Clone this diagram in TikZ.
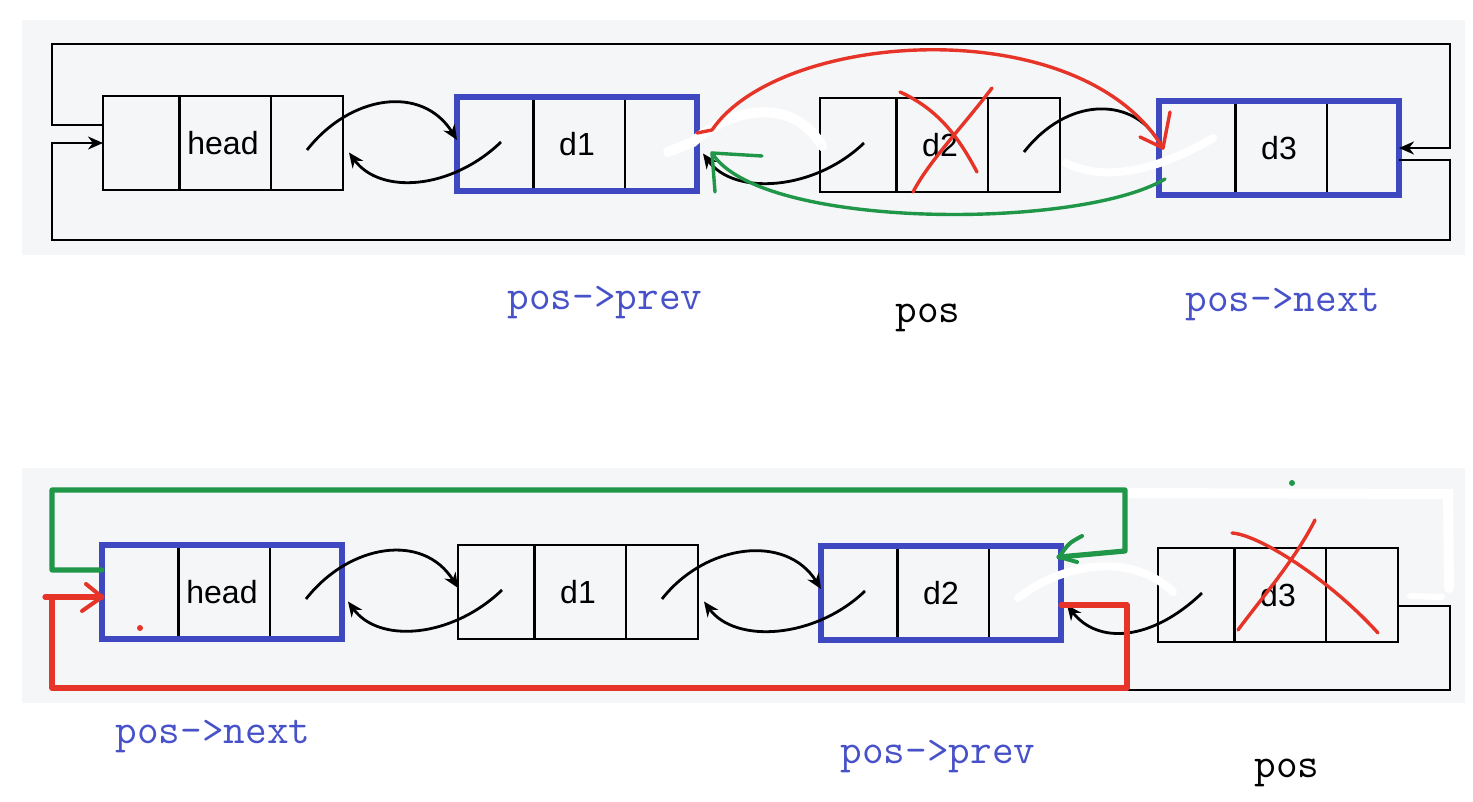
\documentclass[tikz,border=0pt]{standalone}
\usepackage{fontspec}
\setmainfont{Liberation Sans}
\usetikzlibrary{calc,arrows.meta}

\definecolor{panelgray}{RGB}{245,246,248}
\definecolor{selblue}{RGB}{62,72,192}
\definecolor{textblue}{RGB}{72,82,200}
\definecolor{penred}{RGB}{230,52,40}
\definecolor{pengreen}{RGB}{32,150,72}

\begin{document}
\begin{tikzpicture}[x=0.5pt,y=-0.5pt,
  cell/.style={draw,line width=1.4pt,minimum width=120pt,minimum height=47pt,inner sep=0pt,outer sep=0pt},
  sel/.style={draw=selblue,line width=2.8pt},
  plain/.style={},
  link/.style={line width=1.4pt,-{Stealth[length=7.5pt,width=6.5pt]}},
  loopline/.style={line width=1.4pt},
  redpen/.style={draw=penred,line width=1.7pt,line cap=round,line join=round},
  greenpen/.style={draw=pengreen,line width=1.7pt,line cap=round,line join=round},
  erase/.style={draw=white,line width=5pt,line cap=round},
  bluelab/.style={font=\ttfamily\fontsize{21}{22}\selectfont,text=textblue},
  blacklab/.style={font=\ttfamily\fontsize{21}{22}\selectfont}]
\useasboundingbox (0,0) rectangle (1473,802);
\fill[panelgray] (22,20) rectangle (1465,255);
\fill[panelgray] (22,468) rectangle (1465,703);

% list nodes
\foreach \n/\x/\y/\t/\s/\sh in {th/223/143/head/plain/0pt,t1/577/144/d1/sel/1.4pt,t2/940/145/d2/plain/0pt,t3/1279/148/d3/sel/1.4pt,
  bh/222/592/head/sel/1.4pt,b1/578/592/d1/plain/0pt,b2/941/593/d2/sel/1.4pt,b3/1278/595/d3/plain/0pt}{
  \node[cell,\s] (\n) at (\x,\y) {};
  \draw[line width=1.4pt,shorten <=\sh,shorten >=\sh] ($(\n.south west)!0.32!(\n.south east)$) -- ($(\n.north west)!0.32!(\n.north east)$);
  \draw[line width=1.4pt,shorten <=\sh,shorten >=\sh] ($(\n.south west)!0.70!(\n.south east)$) -- ($(\n.north west)!0.70!(\n.north east)$);
  \node[font=\fontsize{16}{17}\selectfont] (\n-txt) at (\n.center) {\t};
}

% top panel
\draw[loopline,-{Stealth[length=7.5pt,width=6.5pt]}] (th.west |- 0,125) -| (52,44) -| (1450,148) -- (t3.east);
\draw[loopline,-{Stealth[length=7.5pt,width=6.5pt]}] (t3.east |- 0,160) -| (1450,240) -| (52,143) -- (th.west);

\draw[link] ($(th.east)+(-36,7)$) .. controls ($(th.east)+(7,-48)$) and ($(t1.west)+(-35,-60)$) .. ($(t1.west)+(0,-4)$);
\draw[link] ($(t1.west)+(44,-2)$) .. controls ($(t1.west)+(-6,46)$) and ($(th.east)+(37,52)$) .. ($(th.east)+(6,9.5)$);
\draw[link] ($(t2.west)+(44,-2)$) .. controls ($(t2.west)+(-6,46)$) and ($(t1.east)+(37,52)$) .. ($(t1.east)+(6,9.5)$);
\draw[line width=1.4pt] ($(t2.east)+(-36,7)$) .. controls ($(t2.east)+(7,-48)$) and ($(t3.west)+(-30,-50)$) .. ($(t3.west)+(-4,-12)$);

\draw[erase] (668,152) -- (693,142) .. controls (725,112) and (790,92) .. (822,146);
\draw[erase,line width=4pt] (1066,163) .. controls (1100,180) and (1150,175) .. (1213,138);

\draw[redpen] (t1.east |- 0,133) -- (712,130) .. controls (780,30) and (1080,10) .. ($(t3.west)+(4,0)$);
\draw[redpen] ($(t3.west)+(11,-36)$) -- ($(t3.west)+(4,0)$) -- ($(t3.west)+(-19,-11)$);
\draw[greenpen] ($(t3.west)+(6,31)$) .. controls (1080,230) and (760,230) .. ($(t1.east)+(15,9)$);
\draw[greenpen] ($(t1.east)+(65,12)$) -- ($(t1.east)+(15,9)$) -- ($(t1.east)+(18,48)$);

\draw[redpen] ($(t2.center)+(-40,-53)$) .. controls ($(t2.center)+(0,-35)$) and ($(t2.center)+(20,-5)$) .. ($(t2.center)+(37,27)$);
\draw[redpen] ($(t2.center)+(52,-57)$) .. controls ($(t2.center)+(20,-15)$) and ($(t2.center)+(-10,15)$) .. ($(t2.center)+(-27,47)$);

\node[bluelab] (lprev1) at (605,303) {pos->prev};
\node[blacklab] (lpos1) at (928,318) {pos};
\node[bluelab] (lnext1) at (1283,305) {pos->next};

% bottom panel
\draw[erase] (1130,493) -- (1448,494) -- (1449,588);
\draw[erase,line width=3pt] (1410,596) -- (1442,597);
\draw[loopline] (b3.east |- 0,606) -| (1450,690) -- (1127,690);

\draw[link] ($(bh.east)+(-36,7)$) .. controls ($(bh.east)+(7,-48)$) and ($(b1.west)+(-35,-60)$) .. ($(b1.west)+(0,-4)$);
\draw[link] ($(b1.west)+(44,-2)$) .. controls ($(b1.west)+(-6,46)$) and ($(bh.east)+(37,52)$) .. ($(bh.east)+(6,9.5)$);
\draw[link] ($(b1.east)+(-36,7)$) .. controls ($(b1.east)+(7,-48)$) and ($(b2.west)+(-35,-60)$) .. ($(b2.west)+(0,-4)$);
\draw[link] ($(b2.west)+(44,-2)$) .. controls ($(b2.west)+(-6,46)$) and ($(b1.east)+(37,52)$) .. ($(b1.east)+(6,9.5)$);
\draw[link] ($(b3.west)+(44,-2)$) .. controls ($(b3.west)+(-6,46)$) and ($(b2.east)+(37,52)$) .. ($(b2.east)+(6,12)$);

\draw[erase,line width=4pt] (1018,598) .. controls (1060,565) and (1130,550) .. (1173,592);

\draw[greenpen,line width=2.6pt] (bh.west |- 0,570) -| (52,490) -| (1125,551) -- ($(b2.east)+(-2,-36)$);
\draw[greenpen,line width=2pt] ($(b2.east)+(21,-57)$) .. controls ($(b2.east)+(8,-50)$) .. ($(b2.east)+(-2,-36)$) -- ($(b2.east)+(16,-31)$);
\draw[redpen,line width=2.6pt] (b2.east |- 0,605) -| (1127,688) -| (52,597);
\draw[redpen,line width=2.6pt] (45,597) -- (bh.west |- 0,597);
\draw[redpen,line width=2pt] ($(bh.west)+(-16,-8)$) -- ($(bh.west)+(0,5)$) -- ($(bh.west)+(-20,19)$);

\draw[redpen] ($(b3.center)+(-46,-62)$) .. controls ($(b3.center)+(-18,-60)$) and ($(b3.center)+(52,-15)$) .. ($(b3.center)+(100,38)$);
\draw[redpen] ($(b3.center)+(37,-75)$) .. controls ($(b3.center)+(17,-35)$) and ($(b3.center)+(-18,5)$) .. ($(b3.center)+(-40,35)$);
\fill[pengreen] (1292,483) circle (1.5pt);
\fill[penred] (140,628) circle (1.5pt);

\node[bluelab] (lnext2) at (213,737) {pos->next};
\node[bluelab] (lprev2) at (938,757) {pos->prev};
\node[blacklab] (lpos2) at (1287,773) {pos};
\end{tikzpicture}
\end{document}
